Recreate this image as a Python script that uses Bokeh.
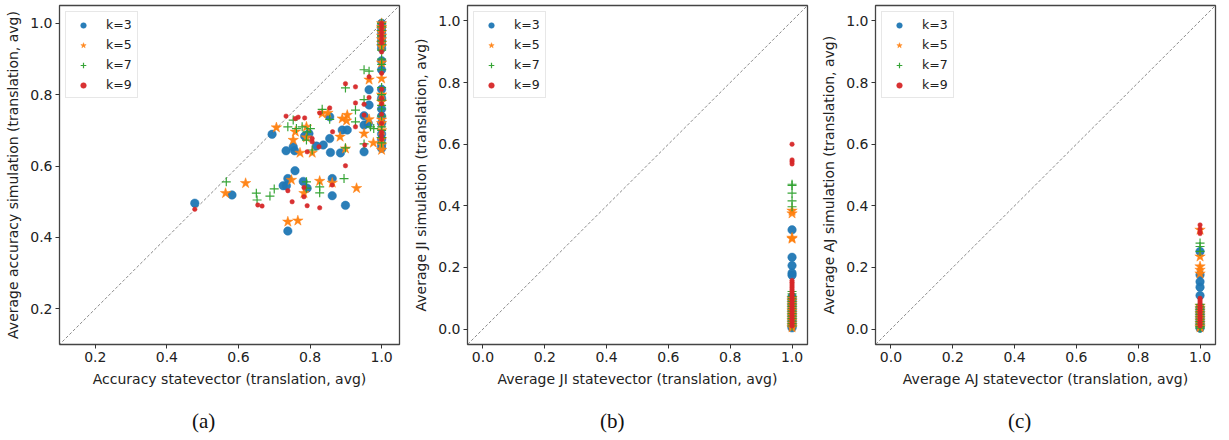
from bokeh.plotting import figure
from bokeh.layouts import row, column
from bokeh.models import Range1d, FixedTicker, PrintfTickFormatter, Div
from bokeh.embed import file_html
from bokeh.resources import INLINE

# ---------------- data ----------------
series_labels = ["k=3", "k=5", "k=7", "k=9"]
colors = ["#1f77b4", "#ff7f0e", "#2ca02c", "#d62728"]
captions = ["(a)", "(b)", "(c)"]

# panel (a): accuracy
a_k3_x = [0.478, 0.582, 0.694, 0.725, 0.734, 0.733, 0.738, 0.738, 0.753, 0.757, 0.758, 0.781, 0.785,
          0.792, 0.797, 0.818, 0.837, 0.855, 0.855, 0.857, 0.862, 0.862, 0.885, 0.890, 0.904, 0.899,
          0.951, 0.951, 0.951, 0.963, 0.965, 0.965,
          1.0, 1.0, 1.0, 1.0, 1.0, 1.0, 1.0, 1.0, 1.0, 1.0, 1.0, 1.0, 1.0, 1.0, 1.0, 1.0, 1.0, 1.0, 1.0]
a_k3_y = [0.496, 0.519, 0.689, 0.545, 0.545, 0.643, 0.565, 0.418, 0.654, 0.643, 0.587, 0.557, 0.684,
          0.538, 0.691, 0.656, 0.659, 0.677, 0.738, 0.638, 0.565, 0.517, 0.637, 0.701, 0.701, 0.490,
          0.640, 0.715, 0.741, 0.719, 0.771, 0.814,
          1.0, 0.99, 0.98, 0.97, 0.96, 0.95, 0.94, 0.93, 0.895, 0.87, 0.815, 0.79, 0.76, 0.74, 0.72,
          0.69, 0.675, 0.66, 0.65]

a_k5_x = [0.564, 0.620, 0.706, 0.738, 0.766, 0.748, 0.753, 0.759, 0.772, 0.790, 0.790, 0.783, 0.806,
          0.827, 0.834, 0.850, 0.862, 0.884, 0.890, 0.904, 0.902, 0.899, 0.930, 0.951, 0.965, 0.965,
          0.977,
          1.0, 1.0, 1.0, 1.0, 1.0, 1.0, 1.0, 1.0, 1.0, 1.0, 1.0, 1.0, 1.0, 1.0, 1.0, 1.0, 1.0, 1.0]
a_k5_y = [0.524, 0.552, 0.708, 0.444, 0.447, 0.561, 0.673, 0.696, 0.637, 0.710, 0.680, 0.524, 0.637,
          0.558, 0.747, 0.749, 0.553, 0.682, 0.733, 0.743, 0.727, 0.649, 0.538, 0.691, 0.731, 0.842,
          0.665,
          1.0, 0.99, 0.985, 0.975, 0.965, 0.955, 0.945, 0.935, 0.89, 0.845, 0.80, 0.78, 0.73, 0.72,
          0.70, 0.675, 0.66, 0.645]

a_k7_x = [0.566, 0.650, 0.652, 0.688, 0.700, 0.738, 0.753, 0.762, 0.778, 0.792, 0.790, 0.801, 0.806,
          0.790, 0.790, 0.827, 0.827, 0.834, 0.855, 0.899, 0.895, 0.899, 0.927, 0.927, 0.951, 0.965,
          0.951, 0.951, 0.969, 0.978,
          1.0, 1.0, 1.0, 1.0, 1.0, 1.0, 1.0, 1.0, 1.0, 1.0, 1.0, 1.0, 1.0, 1.0, 1.0, 1.0, 1.0, 1.0,
          1.0, 1.0]
a_k7_y = [0.556, 0.524, 0.505, 0.516, 0.536, 0.710, 0.729, 0.705, 0.710, 0.696, 0.673, 0.705, 0.645,
          0.556, 0.538, 0.542, 0.525, 0.759, 0.731, 0.819, 0.565, 0.651, 0.757, 0.724, 0.870, 0.866,
          0.786, 0.662, 0.710, 0.705,
          1.0, 0.99, 0.98, 0.965, 0.95, 0.94, 0.925, 0.90, 0.885, 0.87, 0.82, 0.80, 0.785, 0.77,
          0.76, 0.74, 0.71, 0.70, 0.68, 0.665]

a_k9_x = [0.478, 0.654, 0.666, 0.733, 0.738, 0.750, 0.759, 0.767, 0.785, 0.783, 0.783, 0.792, 0.792,
          0.806, 0.806, 0.825, 0.827, 0.827, 0.855, 0.863, 0.862, 0.899, 0.899, 0.927, 0.927, 0.927,
          0.951, 0.953, 0.965, 0.965, 0.951,
          1.0, 1.0, 1.0, 1.0, 1.0, 1.0, 1.0, 1.0, 1.0, 1.0, 1.0, 1.0, 1.0, 1.0, 1.0, 1.0, 1.0]
a_k9_y = [0.479, 0.491, 0.488, 0.740, 0.531, 0.500, 0.733, 0.737, 0.735, 0.540, 0.514, 0.489, 0.640,
          0.677, 0.668, 0.654, 0.483, 0.749, 0.763, 0.696, 0.547, 0.831, 0.601, 0.822, 0.777, 0.710,
          0.773, 0.659, 0.850, 0.792, 0.743,
          1.0, 0.995, 0.985, 0.975, 0.965, 0.955, 0.945, 0.92, 0.86, 0.815, 0.79, 0.775, 0.745, 0.72,
          0.695, 0.685, 0.675]

# panel (b): JI  (statevector value is 1.0 for every point)
b_k3_y = [0.322, 0.233, 0.206, 0.182, 0.175, 0.105, 0.098, 0.091, 0.084, 0.077, 0.070, 0.063, 0.056,
          0.049, 0.042, 0.035, 0.028, 0.021, 0.014, 0.008, 0.004]
b_k5_y = [0.384, 0.375, 0.296, 0.293, 0.100, 0.092, 0.084, 0.076, 0.068, 0.060, 0.052, 0.044, 0.036,
          0.028, 0.020, 0.012, 0.005]
b_k7_y = [0.470, 0.466, 0.441, 0.416, 0.397, 0.122, 0.114, 0.106, 0.098, 0.090, 0.082, 0.074, 0.066,
          0.058, 0.050, 0.042, 0.034, 0.026, 0.018, 0.010]
b_k9_y = [0.600, 0.549, 0.543, 0.536, 0.158, 0.152, 0.146, 0.140, 0.134, 0.128, 0.122, 0.116, 0.110,
          0.104, 0.098, 0.092, 0.086, 0.080, 0.074, 0.068, 0.062, 0.056, 0.050, 0.044, 0.038, 0.032,
          0.026, 0.020, 0.014, 0.010]

# panel (c): AJ  (statevector value is 1.0 for every point)
c_k3_y = [0.252, 0.176, 0.154, 0.136, 0.109, 0.070, 0.063, 0.056, 0.049, 0.042, 0.035, 0.028, 0.021,
          0.014, 0.008, 0.003]
c_k5_y = [0.322, 0.235, 0.203, 0.192, 0.180, 0.075, 0.067, 0.059, 0.051, 0.043, 0.035, 0.027, 0.019,
          0.011, 0.005]
c_k7_y = [0.279, 0.268, 0.252, 0.080, 0.072, 0.064, 0.056, 0.048, 0.040, 0.032, 0.024, 0.016, 0.008,
          0.003]
c_k9_y = [0.338, 0.325, 0.315, 0.310, 0.100, 0.094, 0.088, 0.082, 0.076, 0.070, 0.064, 0.058, 0.052,
          0.046, 0.040, 0.034, 0.028, 0.022, 0.016, 0.010]
statevector_value = 1.0

ticks_a = [0.2, 0.4, 0.6, 0.8, 1.0]
ticks_bc = [0.0, 0.2, 0.4, 0.6, 0.8, 1.0]
range_a = (0.1, 1.05)
range_bc = (-0.05, 1.05)

FONT = "DejaVu Sans"


def make_panel(xs, ys, xlabel, ylabel, ticks, rng):
    p = figure(frame_width=340, frame_height=339, output_backend="svg", toolbar_location=None,
               x_range=Range1d(*rng), y_range=Range1d(*rng),
               min_border_left=59, min_border_right=9, min_border_top=5,
               min_border_bottom=48)
    p.grid.visible = False
    p.background_fill_color = "white"
    p.border_fill_color = "white"
    p.outline_line_color = "#444444"
    p.outline_line_width = 1.3

    # diagonal reference line
    p.line([-1.0, 2.0], [-1.0, 2.0], line_color="#8a8a8a", line_width=1, line_dash="3 2")

    markers = ["circle", "star", "cross", "circle"]
    sizes = [8.5, 11, 9, 4.5]
    for i in range(4):
        kw = dict(marker=markers[i], size=sizes[i], legend_label=series_labels[i])
        if markers[i] == "cross":
            kw.update(line_color=colors[i], line_width=1.2)
        else:
            kw.update(fill_color=colors[i], line_color=colors[i], line_width=0.5)
        p.scatter(xs[i], ys[i], fill_alpha=0.95, line_alpha=0.95, **kw)

    for ax, lab in ((p.xaxis, xlabel), (p.yaxis, ylabel)):
        ax.axis_label = lab
        ax.axis_label_text_font = FONT
        ax.axis_label_text_font_size = "14px"
        ax.axis_label_text_font_style = "normal"
        ax.axis_label_text_color = "#222222"
        ax.major_label_text_font = FONT
        ax.major_label_text_font_size = "14px"
        ax.major_label_text_color = "#222222"
        ax.ticker = FixedTicker(ticks=ticks)
        ax.formatter = PrintfTickFormatter(format="%.1f")
        ax.minor_tick_line_color = None
        ax.major_tick_in = 0
        ax.major_tick_out = 4
        ax.major_tick_line_color = "#333333"
        ax.axis_line_color = None
        ax.major_label_standoff = 3
    p.yaxis.axis_label_standoff = 6
    p.xaxis.axis_label_standoff = 6

    leg = p.legend[0]
    leg.location = "top_left"
    leg.margin = 6
    leg.padding = 5
    leg.spacing = 5
    leg.glyph_width = 24
    leg.glyph_height = 14
    leg.label_height = 14
    leg.label_standoff = 11
    leg.label_text_font = FONT
    leg.label_text_font_size = "12.5px"
    leg.label_text_color = "#222222"
    leg.border_line_color = "#d0d0d0"
    leg.border_line_width = 1
    leg.background_fill_color = "white"
    leg.background_fill_alpha = 0.9
    return p


def make_caption(text):
    html = ('<div style="padding-left:192px;padding-top:17px;font-family:\'Liberation Serif\';'
            'font-size:21px;line-height:24px;color:#111111;white-space:nowrap">%s</div>' % text)
    return Div(text=html, width=408, height=48, margin=0)


pa = make_panel([a_k3_x, a_k5_x, a_k7_x, a_k9_x], [a_k3_y, a_k5_y, a_k7_y, a_k9_y],
                "Accuracy statevector (translation, avg)",
                "Average accuracy simulation (translation, avg)",
                ticks_a, range_a)

b_x = [[statevector_value] * len(v) for v in (b_k3_y, b_k5_y, b_k7_y, b_k9_y)]
pb = make_panel(b_x, [b_k3_y, b_k5_y, b_k7_y, b_k9_y],
                "Average JI statevector (translation, avg)",
                "Average JI simulation (translation, avg)",
                ticks_bc, range_bc)

c_x = [[statevector_value] * len(v) for v in (c_k3_y, c_k5_y, c_k7_y, c_k9_y)]
pc = make_panel(c_x, [c_k3_y, c_k5_y, c_k7_y, c_k9_y],
                "Average AJ statevector (translation, avg)",
                "Average AJ simulation (translation, avg)",
                ticks_bc, range_bc)

layout = column(row(pa, pb, pc), row(*[make_caption(c) for c in captions]))
open("out.html", "w").write(file_html(layout, INLINE))
